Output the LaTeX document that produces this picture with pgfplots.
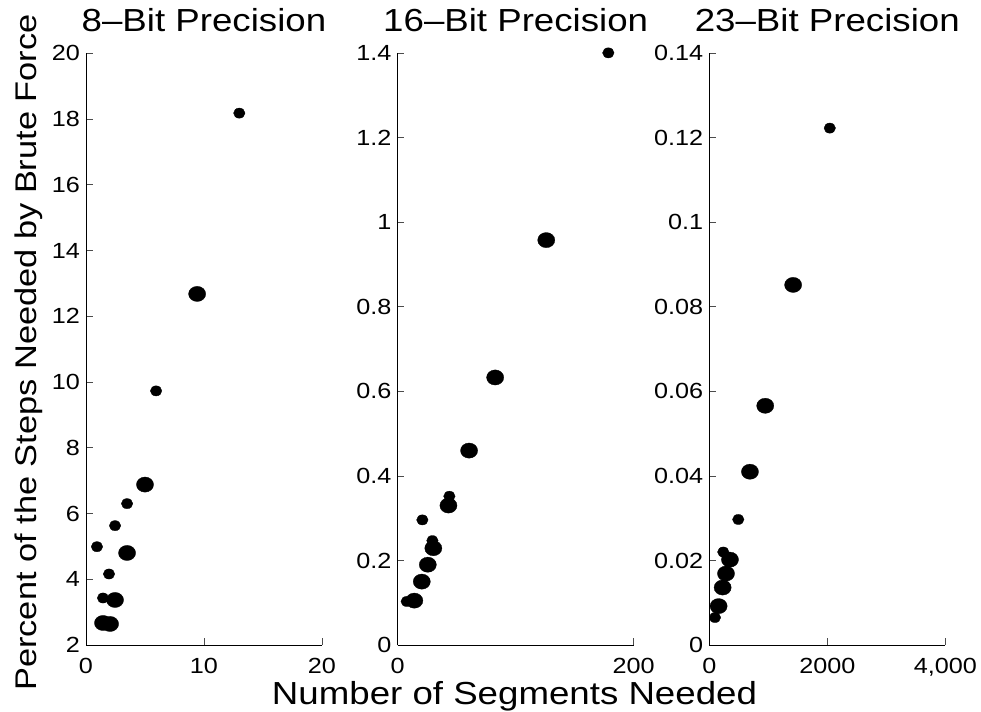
\documentclass[border=0pt]{standalone}
\usepackage{fontspec}
\setmainfont{Liberation Sans}[FakeStretch=1.15]
\usepackage{pgfplots}
\pgfplotsset{compat=1.18}

\pgfplotsset{
  seg/.style={
    scale only axis, width=236bp, height=591.7bp,
    axis lines=left, axis line style={-, line width=0.8bp, black},
    tick align=inside, major tick length=6.5bp,
    tick style={line width=0.8bp, black!70},
    enlargelimits=false, clip=false,
    /pgf/number format/assume math mode=true,
    ticklabel style={font=\fontsize{22}{22}\selectfont},
    xticklabel style={inner sep=0pt, anchor=north, yshift=-13bp},
    yticklabel style={inner sep=0pt, anchor=east, xshift=-6bp},
    title style={font=\fontsize{32}{32}\selectfont, at={(0.5,1)}, anchor=base, yshift=16bp},
  },
  big/.style={only marks, mark=*, mark size=7.6bp,
    mark options={xscale=1.13, fill=black, draw=black, line width=0.3bp}},
  small/.style={only marks, mark=*, mark size=5.1bp,
    mark options={xscale=1.13, fill=black, draw=black, line width=0.3bp}},
}

\begin{document}
\begin{tikzpicture}
\useasboundingbox (0,0) rectangle (981bp,712bp);

% 8-bit
\begin{axis}[seg, at={(86bp,67bp)}, anchor=south west,
  title={8–Bit Precision},
  xmin=0, xmax=20, ymin=2, ymax=20,
  xtick={0,10,20}, xticklabels={0,10,20},
  ytick={2,4,...,20}, yticklabels={2,4,6,8,10,12,14,16,18,20}]
\addplot[small] coordinates {(12.99,18.18) (5.94,9.73) (3.48,6.30) (2.46,5.63) (0.93,4.99) (1.95,4.16) (1.44,3.43)};
\addplot[big] coordinates {(9.42,12.68) (5.00,6.88) (3.48,4.80) (2.46,3.37) (1.44,2.67) (2.04,2.64)};
\end{axis}

% 16-bit
\begin{axis}[seg, at={(397.7bp,67bp)}, anchor=south west,
  title={16–Bit Precision},
  xmin=0, xmax=200, ymin=0, ymax=1.4,
  xtick={0,200}, xticklabels={0,200},
  ytick={0,0.2,0.4,0.6,0.8,1,1.2,1.4}, yticklabels={0,0.2,0.4,0.6,0.8,1,1.2,1.4}]
\addplot[small] coordinates {(178.5,1.401) (43.8,0.352) (20.9,0.296) (29.4,0.247) (7.6,0.103)};
\addplot[big] coordinates {(125.9,0.958) (82.6,0.633) (60.5,0.460) (43.0,0.330) (30.2,0.229) (25.5,0.190) (20.4,0.150) (14.1,0.105)};
\end{axis}

% 23-bit
\begin{axis}[seg, at={(709.3bp,67bp)}, anchor=south west,
  title={23–Bit Precision},
  xmin=0, xmax=4000, ymin=0, ymax=0.14,
  xtick={0,2000,4000}, xticklabels={0,2000,{4,000}},
  ytick={0,0.02,0.04,0.06,0.08,0.1,0.12,0.14}, yticklabels={0,0.02,0.04,0.06,0.08,0.1,0.12,0.14}]
\addplot[small] coordinates {(2042,0.1223) (491,0.0297) (237,0.0220) (96,0.0065)};
\addplot[big] coordinates {(1421,0.0852) (948,0.0566) (689,0.0410) (350,0.0202) (283,0.0169) (226,0.0136) (158,0.0092)};
\end{axis}

\node[rotate=90, anchor=base, font=\fontsize{30}{30}\selectfont] at (36bp,359.5bp) {Percent of the Steps Needed by Brute Force};
\node[anchor=base, font=\fontsize{32}{32}\selectfont] at (514.5bp,8bp) {Number of Segments Needed};
\end{tikzpicture}
\end{document}
